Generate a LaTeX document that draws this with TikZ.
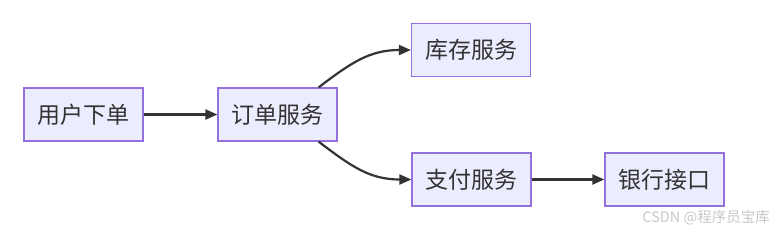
\documentclass[tikz,border=0pt]{standalone}
\usepackage{fontspec}
\setmainfont{Noto Sans CJK SC}
\usetikzlibrary{arrows.meta}
\definecolor{boxfill}{HTML}{ECECFF}
\definecolor{boxline}{HTML}{9370DB}
\definecolor{edgecol}{HTML}{333333}
\definecolor{wm}{HTML}{C8C8C8}
\begin{document}
\begin{tikzpicture}[x=1pt,y=-1pt,
  box/.style={draw=boxline,fill=boxfill,line width=1.3pt,minimum width=119pt,minimum height=53pt,inner sep=0pt,font=\fontsize{23}{26}\selectfont,text=edgecol},
  conn/.style={draw=edgecol,line width=2.2pt,-{Stealth[length=12pt,width=10pt,inset=0pt]}}]
\useasboundingbox (0,0) rectangle (776,233);
\node[box] (a) at (83.5,114.5) {用户下单};
\node[box] (b) at (277.5,114.5) {订单服务};
\node[box] (c) at (471,50) {库存服务};
\node[box] (d) at (471.5,179.5) {支付服务};
\node[box] (e) at (664.5,179.5) {银行接口};
\draw[conn] (a.east) -- (b.west);
\draw[conn] ([xshift=-19pt]b.north east) .. controls (352,62) and (370,50) .. (c.west);
\draw[conn] ([xshift=-19pt]b.south east) .. controls (352,167) and (370,179.5) .. (d.west);
\draw[conn] (d.east) -- (e.west);
\node[anchor=east,text=wm,font=\fontsize{14.5}{16}\selectfont,inner sep=0pt] (w) at (770,218) {CSDN @程序员宝库};
\end{tikzpicture}
\end{document}
